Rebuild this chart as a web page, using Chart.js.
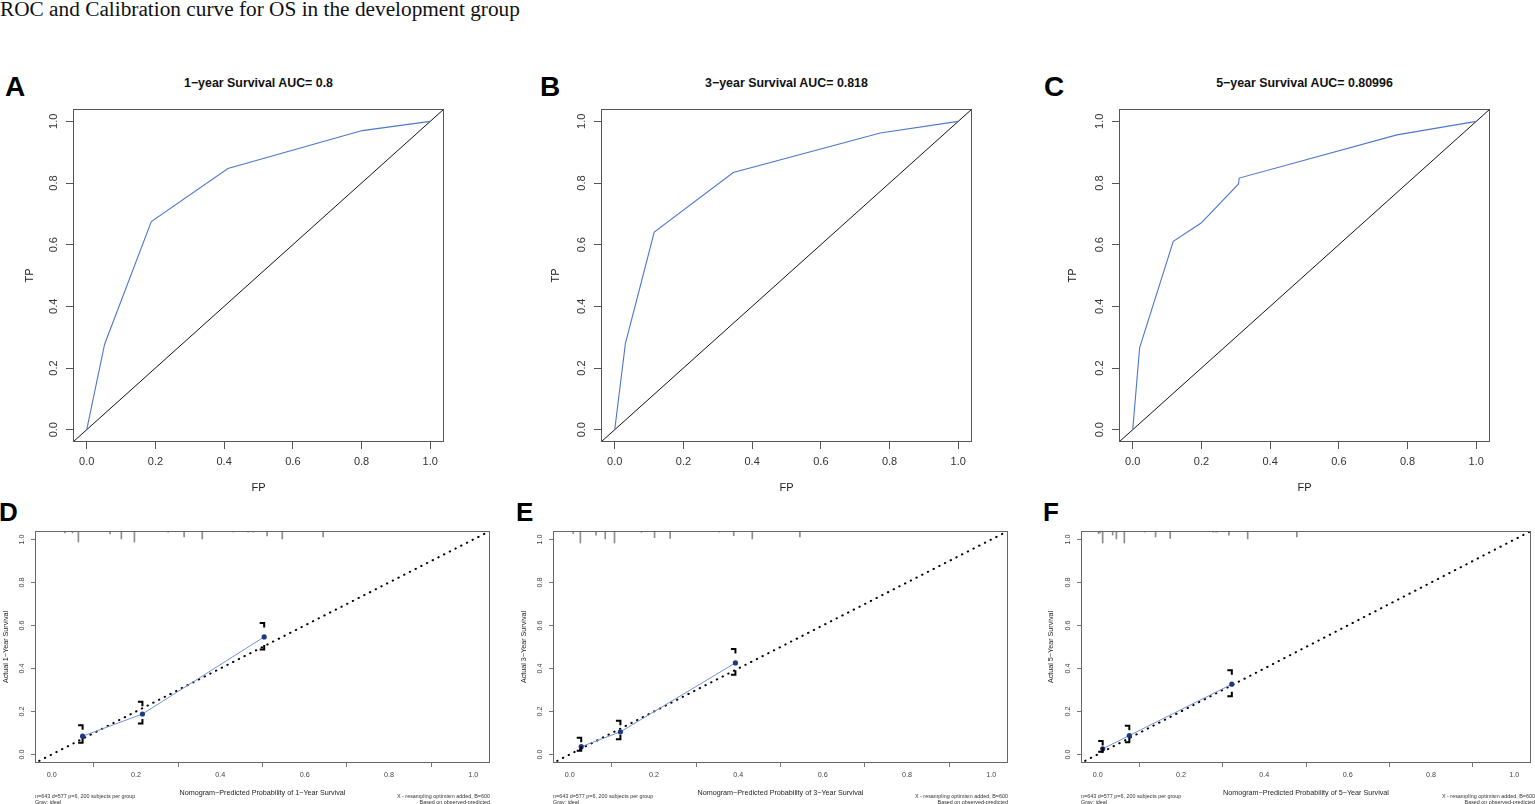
<!DOCTYPE html>
<html><head><meta charset="utf-8">
<script src="https://cdn.jsdelivr.net/npm/chart.js@4.4.1/dist/chart.umd.min.js"></script>
<style>
html,body{margin:0;padding:0;background:#fff;width:1535px;height:804px;overflow:hidden;}
body{position:relative;font-family:"Liberation Sans",Arial,sans-serif;}
.abs{position:absolute;white-space:nowrap;line-height:1;color:#111;}
.letter{font-weight:bold;color:#000;}
.ptitle{font-weight:bold;font-size:12.4px;transform:translateX(-50%);}
.sub{font-size:5.4px;line-height:6.5px;color:#333;}
canvas{position:absolute;}
</style></head><body>
<div class="abs" style="left:0;top:-1px;font-family:'Liberation Serif','Times New Roman',serif;font-size:21.3px;">ROC and Calibration curve for OS in the development group</div>

<div class="abs letter" style="left:5px;top:73px;font-size:28px;">A</div>
<div class="abs letter" style="left:540px;top:73px;font-size:28px;">B</div>
<div class="abs letter" style="left:1044px;top:73px;font-size:28px;">C</div>
<div class="abs letter" style="left:-1px;top:499px;font-size:26px;">D</div>
<div class="abs letter" style="left:516px;top:499px;font-size:26px;">E</div>
<div class="abs letter" style="left:1043px;top:499px;font-size:26px;">F</div>

<div class="abs ptitle" style="left:258.5px;top:77px;">1−year Survival AUC= 0.8</div>
<div class="abs ptitle" style="left:786.5px;top:77px;">3−year Survival AUC= 0.818</div>
<div class="abs ptitle" style="left:1304.5px;top:77px;">5−year Survival AUC= 0.80996</div>

<canvas id="cA" width="470" height="404" style="left:0;top:96px;"></canvas>
<canvas id="cB" width="470" height="404" style="left:528px;top:96px;"></canvas>
<canvas id="cC" width="470" height="404" style="left:1046px;top:96px;"></canvas>
<canvas id="cD" width="515" height="284" style="left:0;top:520px;"></canvas>
<canvas id="cE" width="515" height="284" style="left:518px;top:520px;"></canvas>
<canvas id="cF" width="489" height="284" style="left:1046px;top:520px;"></canvas>

<div class="abs sub" style="left:35px;top:792.5px;">n=643 d=577 p=6, 200 subjects per group<br>Gray: ideal</div>
<div class="abs sub" style="left:553px;top:792.5px;">n=643 d=577 p=6, 200 subjects per group<br>Gray: ideal</div>
<div class="abs sub" style="left:1081px;top:792.5px;">n=643 d=577 p=6, 200 subjects per group<br>Gray: ideal</div>
<div class="abs sub" style="right:1045px;top:792.5px;text-align:right;">X - resampling optimism added, B=600<br>Based on observed-predicted</div>
<div class="abs sub" style="right:527px;top:792.5px;text-align:right;">X - resampling optimism added, B=600<br>Based on observed-predicted</div>
<div class="abs sub" style="right:0px;top:792.5px;text-align:right;">X - resampling optimism added, B=600<br>Based on observed-predicted</div>

<script>
// ---------- DATA ----------
const tickValues = [0, 0.2, 0.4, 0.6, 0.8, 1.0];
const axisRange = [-0.04, 1.04];
const refLine = [-0.04, 1.04];      // chance diagonal (x = y)
const idealLine = [-0.03, 1.04];    // ideal calibration (x = y)

// ROC curves
const rocA_fp = [0, 0.052, 0.188, 0.411, 0.802, 1];
const rocA_tp = [0, 0.277, 0.675, 0.847, 0.970, 1];
const rocB_fp = [0, 0.031, 0.115, 0.345, 0.773, 1];
const rocB_tp = [0, 0.279, 0.641, 0.834, 0.962, 1];
const rocC_fp = [0, 0.020, 0.118, 0.199, 0.308, 0.310, 0.769, 1];
const rocC_tp = [0, 0.265, 0.611, 0.670, 0.797, 0.816, 0.956, 1];

// Calibration curves
const cal1_pred = [0.073, 0.215, 0.504];
const cal1_obs  = [0.085, 0.188, 0.547];
const cal1_lo   = [0.054, 0.144, 0.488];
const cal1_hi   = [0.136, 0.245, 0.612];
const cal3_pred = [0.027, 0.120, 0.393];
const cal3_obs  = [0.036, 0.105, 0.426];
const cal3_lo   = [0.017, 0.070, 0.371];
const cal3_hi   = [0.078, 0.157, 0.491];
const cal5_pred = [0.012, 0.076, 0.322];
const cal5_obs  = [0.026, 0.088, 0.327];
const cal5_lo   = [0.012, 0.057, 0.271];
const cal5_hi   = [0.062, 0.133, 0.392];

// Rug (distribution of predicted values) positions and relative heights
const rug1_pos = [0.031,0.049,0.063,0.138,0.165,0.196,0.276,0.314,0.357,0.431,0.466,0.478,0.511,0.547,0.644];
const rug1_h   = [0.009,0.009,0.051,0.014,0.037,0.051,0.005,0.028,0.037,0.005,0.005,0.005,0.023,0.037,0.028];
const rug3_pos = [0.008,0.025,0.062,0.084,0.106,0.170,0.201,0.238,0.355,0.389,0.433,0.546];
const rug3_h   = [0.012,0.056,0.019,0.037,0.056,0.006,0.031,0.034,0.005,0.022,0.037,0.028];
const rug5_pos = [0.002,0.006,0.012,0.036,0.045,0.064,0.113,0.139,0.174,0.277,0.283,0.287,0.315,0.360,0.478];
const rug5_h   = [0.012,0.009,0.056,0.019,0.037,0.056,0.005,0.028,0.034,0.005,0.005,0.005,0.019,0.037,0.028];

// ---------- CHART HELPERS ----------
Chart.defaults.font.family = '"Liberation Sans", Arial, sans-serif';

function framePlugin(color) {
  return { id: 'frame', afterDraw(c) {
    const a = c.chartArea, ctx = c.ctx;
    ctx.save(); ctx.strokeStyle = color; ctx.lineWidth = 1;
    ctx.strokeRect(Math.round(a.left) + 0.5, Math.round(a.top) + 0.5,
                   Math.round(a.right - a.left) - 1, Math.round(a.bottom - a.top) - 1);
    ctx.restore();
  }};
}

function errbarPlugin(xs, lo, hi) {
  return { id: 'errbars', afterDatasetsDraw(c) {
    const ctx = c.ctx, sx = c.scales.x, sy = c.scales.y;
    ctx.save(); ctx.strokeStyle = '#000'; ctx.lineWidth = 2; ctx.lineCap = 'butt';
    xs.forEach((v, i) => {
      const px = sx.getPixelForValue(v), yh = sy.getPixelForValue(hi[i]), yl = sy.getPixelForValue(lo[i]);
      ctx.beginPath();
      ctx.moveTo(px - 4.5, yh); ctx.lineTo(px, yh); ctx.lineTo(px, yh + 4.5);
      ctx.moveTo(px, yl - 4.5); ctx.lineTo(px, yl); ctx.lineTo(px - 4.5, yl);
      ctx.stroke();
    });
    ctx.restore();
  }};
}

function axisCfg(o) {
  const tk = { autoSkip: false, callback: v => Number(v).toFixed(1), font: { size: o.font }, color: o.color, padding: o.pad };
  if (o.horizontal) { tk.maxRotation = 0; tk.minRotation = 0; }
  else { tk.minRotation = 90; tk.maxRotation = 90; tk.crossAlign = 'center'; }
  return {
    type: 'linear', min: axisRange[0], max: axisRange[1], offset: false,
    afterBuildTicks: s => { s.ticks = tickValues.map(v => ({ value: v })); },
    afterFit: s => { if (o.horizontal) s.height = o.size; else s.width = o.size; },
    ticks: tk,
    grid: { drawOnChartArea: false, drawTicks: true, tickLength: o.tickLen, color: o.gridColor, lineWidth: 1 },
    border: { display: false },
    title: { display: true, text: o.title, font: { size: o.titleFont }, color: o.titleColor,
             padding: o.horizontal ? { top: 0, bottom: o.titlePad } : { top: o.titlePad, bottom: 0 } }
  };
}

function makeRoc(id, fp, tp, yTitlePad) {
  new Chart(document.getElementById(id), {
    type: 'scatter',
    data: { datasets: [
      { data: fp.map((x, i) => ({ x, y: tp[i] })), showLine: true, borderColor: '#4f77c9', borderWidth: 1.1, pointRadius: 0, tension: 0 },
      { data: refLine.map(v => ({ x: v, y: v })), showLine: true, borderColor: '#111', borderWidth: 1, pointRadius: 0 }
    ]},
    options: {
      responsive: false, animation: false, events: [],
      layout: { padding: { top: 13, right: 26, left: 0, bottom: 0 } },
      plugins: { legend: { display: false }, tooltip: { enabled: false } },
      scales: {
        x: axisCfg({ horizontal: true, size: 58, font: 11, color: '#333', pad: 6.4, tickLen: 7, gridColor: '#555',
                     title: 'FP', titleFont: 11, titleColor: '#222', titlePad: 5.4 }),
        y: axisCfg({ horizontal: false, size: 73, font: 11, color: '#333', pad: 4.8, tickLen: 7, gridColor: '#555',
                     title: 'TP', titleFont: 11, titleColor: '#222', titlePad: yTitlePad })
      }
    },
    plugins: [framePlugin('#555')]
  });
}

function makeCal(id, pred, obs, lo, hi, rugPos, rugH, year, padRight, yTitlePad) {
  const top = axisRange[1];
  new Chart(document.getElementById(id), {
    type: 'scatter',
    data: { datasets: [
      { data: pred.map((x, i) => ({ x, y: obs[i] })), showLine: true, borderColor: '#7494d6', borderWidth: 1,
        pointRadius: 2.6, pointBackgroundColor: '#1d3a8a', pointBorderColor: '#1d3a8a', pointBorderWidth: 0 },
      { data: idealLine.map(v => ({ x: v, y: v })), showLine: true, borderColor: '#000', borderWidth: 2,
        borderDash: [0.4, 6], borderCapStyle: 'round', pointRadius: 0 },
      { type: 'bar', data: rugPos.map((x, i) => ({ x, y: [top, top - rugH[i]] })), backgroundColor: '#8c8c8c',
        borderWidth: 0, barThickness: 1 }
    ]},
    options: {
      responsive: false, animation: false, events: [],
      layout: { padding: { top: 11, right: padRight, left: 0, bottom: 0 } },
      plugins: { legend: { display: false }, tooltip: { enabled: false } },
      scales: {
        x: axisCfg({ horizontal: true, size: 41, font: 7.2, color: '#444', pad: 3.7, tickLen: 4, gridColor: '#777',
                     title: 'Nomogram−Predicted Probability of ' + year + '−Year Survival', titleFont: 7.2, titleColor: '#222', titlePad: 6.7 }),
        y: axisCfg({ horizontal: false, size: 35, font: 7.2, color: '#444', pad: 4, tickLen: 4, gridColor: '#777',
                     title: 'Actual ' + year + '−Year Survival', titleFont: 7.2, titleColor: '#222', titlePad: yTitlePad })
      }
    },
    plugins: [framePlugin('#666'), errbarPlugin(pred, lo, hi)]
  });
}

makeRoc('cA', rocA_fp, rocA_tp, 23.4);
makeRoc('cB', rocB_fp, rocB_tp, 21.4);
makeRoc('cC', rocC_fp, rocC_tp, 20.4);
makeCal('cD', cal1_pred, cal1_obs, cal1_lo, cal1_hi, rug1_pos, rug1_h, '1', 25, 1.7);
makeCal('cE', cal3_pred, cal3_obs, cal3_lo, cal3_hi, rug3_pos, rug3_h, '3', 25, 1.7);
makeCal('cF', cal5_pred, cal5_obs, cal5_lo, cal5_hi, rug5_pos, rug5_h, '5', 0, 0.7);
</script>
</body></html>
